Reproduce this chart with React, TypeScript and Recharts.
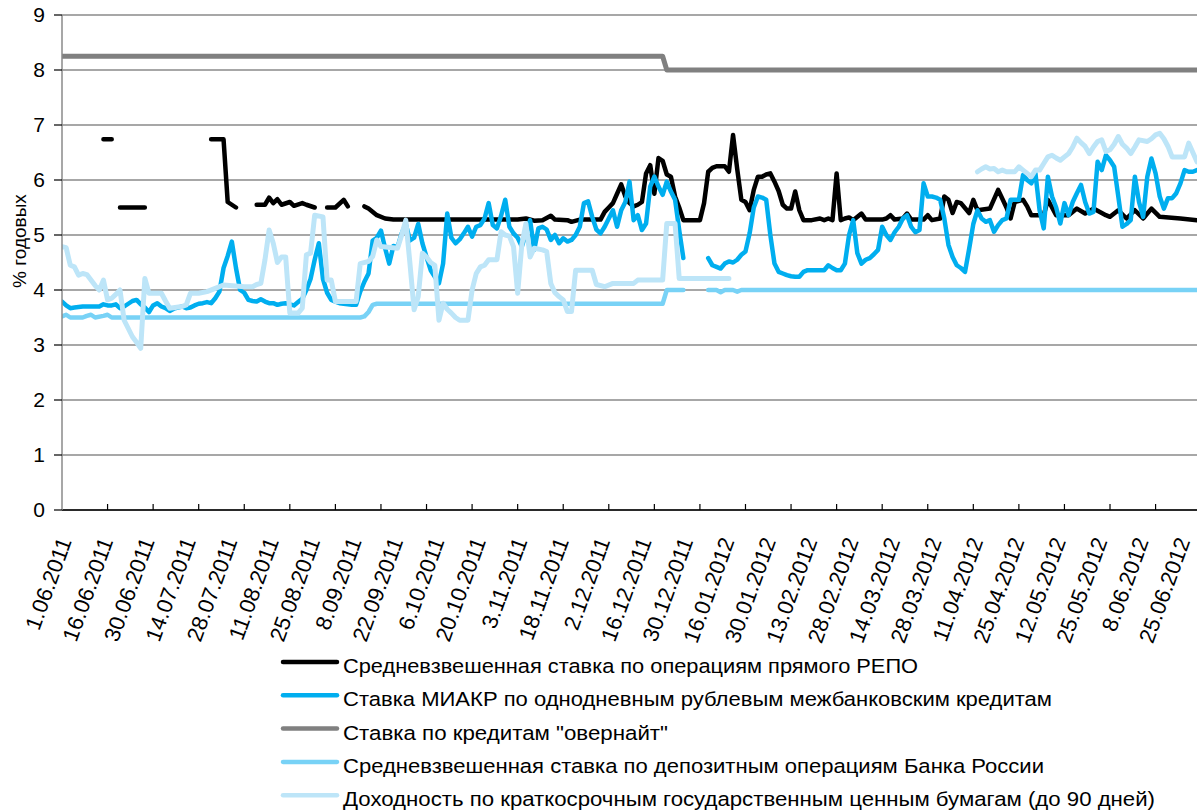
import React from 'react';
import { LineChart, Line, XAxis, YAxis, CartesianGrid } from 'recharts';

type Pt = [number, number | null];

// Tick labels: one every 10 business days (category index = position * 10)
const tickLabels: string[] = [
  '1.06.2011', '16.06.2011', '30.06.2011', '14.07.2011', '28.07.2011', '11.08.2011', '25.08.2011',
  '8.09.2011', '22.09.2011', '6.10.2011', '20.10.2011', '3.11.2011', '18.11.2011', '2.12.2011',
  '16.12.2011', '30.12.2011', '16.01.2012', '30.01.2012', '13.02.2012', '28.02.2012', '14.03.2012',
  '28.03.2012', '11.04.2012', '25.04.2012', '12.05.2012', '25.05.2012', '8.06.2012', '25.06.2012',
];
const lastIndex = 274;
const yTicks = [0, 1, 2, 3, 4, 5, 6, 7, 8, 9];

// Series values: [business-day index, value]; null = gap
const repo: Pt[] = [
  [10, 6.74], [11, 6.74], [12, 6.74], [13, null],
  [14, 5.5], [20, 5.5], [21, null],
  [36, 6.74], [39, 6.74], [40, 5.6], [41, 5.55], [42, 5.5], [43, null],
  [47, 5.55], [49, 5.55], [50, 5.68], [51, 5.58], [52, 5.65], [53, 5.55], [55, 5.6], [56, 5.53], [58, 5.58], [59, 5.55], [61, 5.5], [62, null],
  [64, 5.5], [66, 5.5], [68, 5.64], [69, 5.52], [70, null],
  [73, 5.52], [74, 5.48], [76, 5.36], [78, 5.3], [80, 5.28], [110, 5.28], [112, 5.3], [114, 5.26], [116, 5.27], [118, 5.35],
  [119, 5.28], [122, 5.27], [123, 5.24], [125, 5.28], [130, 5.28], [131, 5.42], [132, 5.5], [133, 5.58], [134, 5.75], [135, 5.92],
  [136, 5.7], [137, 5.58], [138, 5.52], [139, 5.55], [140, 5.6], [141, 6.12], [142, 6.27], [143, 5.75], [144, 6.4], [145, 6.35],
  [146, 6.1], [147, 6.06], [148, 5.7], [149, 5.5], [150, 5.27], [154, 5.27], [155, 5.58], [156, 6.15], [157, 6.22], [158, 6.25],
  [160, 6.25], [161, 6.15], [162, 6.82], [163, 6.2], [164, 5.64], [165, 5.6], [166, 5.45], [167, 5.82], [168, 6.06], [169, 6.06],
  [170, 6.1], [171, 6.12], [172, 5.97], [173, 5.8], [174, 5.55], [175, 5.48], [176, 5.48], [177, 5.79], [178, 5.45], [179, 5.27],
  [181, 5.27], [183, 5.3], [184, 5.27], [185, 5.3], [186, 5.27], [187, 6.12], [188, 5.27], [189, 5.3], [190, 5.32], [191, 5.27],
  [193, 5.39], [194, 5.28], [198, 5.28], [199, 5.3], [200, 5.36], [201, 5.28], [203, 5.3], [204, 5.39], [205, 5.28], [208, 5.28],
  [209, 5.36], [210, 5.27], [212, 5.3], [213, 5.7], [214, 5.64], [215, 5.4], [216, 5.6], [217, 5.58], [219, 5.4], [220, 5.64],
  [221, 5.45], [224, 5.48], [226, 5.82], [228, 5.5], [229, 5.3], [230, 5.6], [232, 5.64], [233, 5.52], [234, 5.36], [237, 5.36],
  [238, 5.64], [240, 5.36], [243, 5.36], [245, 5.48], [247, 5.39], [249, 5.48], [252, 5.36], [253, 5.33], [255, 5.45], [257, 5.3],
  [259, 5.45], [261, 5.3], [263, 5.48], [265, 5.33], [270, 5.3], [274, 5.27],
];

const miacr: Pt[] = [
  [0, 3.79], [1, 3.72], [2, 3.67], [3, 3.68], [5, 3.7], [7, 3.7], [9, 3.7], [10, 3.74], [11, 3.72], [12, 3.72],
  [13, 3.74], [14, 3.67], [15, 3.7], [16, 3.75], [17, 3.8], [18, 3.82], [19, 3.74], [20, 3.68], [21, 3.6], [22, 3.72],
  [23, 3.76], [24, 3.7], [25, 3.67], [26, 3.62], [27, 3.66], [28, 3.68], [29, 3.7], [30, 3.67], [31, 3.68], [32, 3.72],
  [33, 3.75], [34, 3.76], [35, 3.78], [36, 3.76], [37, 3.85], [38, 3.97], [39, 4.4], [40, 4.62], [41, 4.88], [42, 4.4],
  [43, 4.0], [44, 3.95], [45, 3.82], [46, 3.8], [47, 3.79], [48, 3.83], [49, 3.79], [50, 3.76], [51, 3.76], [52, 3.73],
  [53, 3.75], [54, 3.76], [55, 3.74], [56, 3.72], [57, 3.78], [58, 3.84], [59, 4.0], [60, 4.2], [61, 4.55], [62, 4.85],
  [63, 4.2], [64, 3.95], [65, 3.82], [66, 3.79], [67, 3.76], [68, 3.75], [70, 3.73], [71, 3.73], [72, 3.97], [73, 4.15],
  [74, 4.3], [75, 4.9], [76, 4.95], [77, 5.08], [78, 4.76], [79, 4.48], [80, 4.8], [81, 4.78], [82, 5.03], [83, 5.2],
  [84, 4.9], [85, 4.95], [86, 5.2], [87, 4.85], [88, 4.6], [89, 4.36], [90, 4.24], [91, 4.12], [92, 4.48], [93, 5.39],
  [94, 4.95], [95, 4.85], [96, 4.92], [97, 5.03], [98, 5.15], [99, 4.97], [100, 5.15], [101, 5.18], [102, 5.3], [103, 5.58],
  [104, 5.18], [105, 5.12], [106, 5.35], [107, 5.64], [108, 5.15], [109, 5.03], [110, 4.95], [111, 4.79], [112, 5.03], [113, 5.27],
  [114, 4.73], [115, 5.12], [116, 5.15], [117, 5.1], [118, 4.91], [119, 5.0], [120, 4.85], [121, 4.94], [122, 4.88], [123, 4.91],
  [124, 5.0], [125, 5.15], [126, 5.58], [127, 5.61], [128, 5.33], [129, 5.1], [130, 5.03], [131, 5.15], [132, 5.3], [133, 5.45],
  [134, 5.15], [135, 5.45], [136, 5.6], [137, 5.97], [138, 5.27], [139, 5.36], [140, 5.09], [141, 5.21], [142, 5.88], [143, 6.06],
  [144, 5.88], [145, 5.73], [146, 5.97], [147, 5.79], [148, 5.64], [149, 5.09], [150, 4.58], [151, null],
  [156, 4.58], [157, 4.45], [158, 4.42], [159, 4.39], [160, 4.48], [161, 4.52], [162, 4.5], [163, 4.55], [164, 4.64], [165, 4.7],
  [166, 5.03], [167, 5.5], [168, 5.7], [169, 5.68], [170, 5.64], [171, 5.0], [172, 4.48], [173, 4.33], [174, 4.3], [175, 4.27],
  [176, 4.25], [177, 4.24], [178, 4.24], [179, 4.33], [180, 4.36], [183, 4.36], [184, 4.36], [185, 4.45], [186, 4.4], [187, 4.36],
  [188, 4.36], [189, 4.48], [190, 5.0], [191, 5.27], [192, 4.67], [193, 4.48], [194, 4.55], [195, 4.58], [196, 4.65], [197, 4.73],
  [198, 5.15], [199, 5.0], [200, 4.91], [201, 5.05], [202, 5.15], [203, 5.3], [204, 5.36], [205, 5.15], [206, 5.05], [207, 5.09],
  [208, 5.94], [209, 5.7], [210, 5.7], [211, 5.68], [212, 5.64], [213, 5.3], [214, 4.82], [215, 4.6], [216, 4.45], [217, 4.4],
  [218, 4.33], [219, 4.75], [220, 5.2], [221, 5.45], [222, 5.3], [223, 5.24], [224, 5.27], [225, 5.06], [226, 5.18], [227, 5.27],
  [228, 5.3], [229, 5.64], [230, 5.64], [231, 5.64], [232, 6.09], [233, 6.0], [234, 5.94], [235, 6.12], [236, 5.45], [237, 5.12],
  [238, 6.06], [239, 5.7], [240, 5.5], [241, 5.21], [242, 5.58], [243, 5.36], [244, 5.6], [245, 5.76], [246, 5.91], [247, 5.6],
  [248, 5.39], [249, 5.42], [250, 6.33], [251, 6.18], [252, 6.45], [253, 6.36], [254, 6.24], [255, 5.7], [256, 5.15], [257, 5.2],
  [258, 5.27], [259, 6.06], [260, 5.6], [261, 5.33], [262, 6.06], [263, 6.39], [264, 6.12], [265, 5.7], [266, 5.48], [267, 5.67],
  [268, 5.67], [269, 5.76], [270, 5.94], [271, 6.18], [272, 6.15], [273, 6.15], [274, 6.18],
];

const overnight: Pt[] = [[0, 8.25], [145, 8.25], [146, 8.0], [274, 8.0]];

const deposit: Pt[] = [
  [0, 3.52], [1, 3.55], [2, 3.5], [5, 3.5], [6, 3.53], [7, 3.55], [8, 3.5], [10, 3.53], [11, 3.55], [12, 3.5],
  [72, 3.5], [73, 3.52], [74, 3.6], [75, 3.73], [76, 3.75], [145, 3.75], [146, 4.0], [150, 4.0], [151, null],
  [156, 4.0], [158, 4.0], [159, 3.96], [160, 4.0], [162, 4.0], [163, 3.97], [164, 4.0], [274, 4.0],
];

const bills: Pt[] = [
  [0, 4.79], [1, 4.77], [2, 4.45], [3, 4.42], [4, 4.27], [5, 4.3], [6, 4.28], [7, 4.18], [8, 4.08], [9, 4.0],
  [10, 4.18], [11, 3.82], [12, 3.85], [13, 3.92], [14, 4.0], [15, 3.45], [16, 3.3], [17, 3.15], [18, 3.05], [19, 2.94],
  [20, 4.21], [21, 3.94], [24, 3.94], [25, 3.8], [26, 3.67], [29, 3.7], [30, 3.73], [31, 3.94], [33, 3.94], [35, 3.97],
  [37, 4.03], [39, 4.09], [44, 4.06], [46, 4.06], [47, 4.1], [48, 4.12], [49, 4.55], [50, 5.09], [51, 4.85], [52, 4.5],
  [53, 4.6], [54, 4.6], [55, 3.58], [57, 3.58], [58, 3.67], [59, 4.64], [60, 4.67], [61, 5.36], [63, 5.33], [64, 4.18],
  [65, 4.18], [66, 3.79], [71, 3.79], [72, 4.48], [74, 4.52], [75, 4.61], [76, 4.91], [77, 4.79], [81, 4.76], [82, 5.0],
  [83, 5.27], [84, 4.48], [85, 3.64], [86, 3.88], [87, 4.67], [88, 4.6], [89, 4.5], [90, 4.45], [91, 3.45], [92, 3.76],
  [93, 3.65], [94, 3.58], [95, 3.5], [96, 3.45], [98, 3.45], [99, 4.0], [100, 4.3], [101, 4.42], [102, 4.45], [103, 4.55],
  [105, 4.55], [106, 5.06], [107, 5.0], [108, 4.98], [109, 4.79], [110, 3.94], [111, 4.82], [112, 5.21], [113, 4.6], [114, 4.76],
  [116, 4.73], [117, 4.7], [118, 4.12], [119, 3.95], [120, 3.88], [121, 3.82], [122, 3.61], [123, 3.61], [124, 4.36], [128, 4.36],
  [129, 4.1], [131, 4.06], [133, 4.12], [138, 4.12], [139, 4.18], [145, 4.18], [146, 5.21], [148, 5.21], [149, 4.21], [161, 4.21],
  [162, null],
  [221, 6.15], [222, 6.2], [223, 6.24], [224, 6.2], [225, 6.21], [226, 6.15], [227, 6.18], [228, 6.15], [230, 6.15], [231, 6.24],
  [232, 6.18], [233, 6.12], [234, 6.06], [235, 6.18], [236, 6.18], [237, 6.3], [238, 6.42], [239, 6.45], [240, 6.4], [241, 6.36],
  [242, 6.42], [243, 6.48], [244, 6.6], [245, 6.76], [246, 6.68], [247, 6.61], [248, 6.48], [249, 6.6], [250, 6.7], [251, 6.73],
  [252, 6.52], [253, 6.55], [254, 6.65], [255, 6.79], [256, 6.65], [257, 6.58], [258, 6.48], [259, 6.6], [260, 6.73], [262, 6.7],
  [263, 6.75], [264, 6.82], [265, 6.85], [266, 6.75], [267, 6.61], [268, 6.42], [271, 6.42], [272, 6.67], [273, 6.5], [274, 6.33],
];

const seriesNames = [
  'Средневзвешенная ставка по операциям прямого РЕПО',
  'Ставка МИАКР по однодневным рублевым межбанковским кредитам',
  'Ставка по кредитам "овернайт"',
  'Средневзвешенная ставка по депозитным операциям Банка России',
  'Доходность по краткосрочным государственным ценным бумагам (до 90 дней)',
];
const seriesData: Pt[][] = [repo, miacr, overnight, deposit, bills];
const seriesColors = ['#000000', '#00AEEF', '#808080', '#78D2F6', '#BDE5F8'];
const seriesWidths = [4.5, 4.5, 5, 4.5, 5];
const legendWidths = [575, 709, 325, 701, 812];

const FONT = '"Liberation Sans", Arial, Helvetica, sans-serif';

const labelTicks = tickLabels.map((_, k) => k * 10);
const markTicks: number[] = [];
for (let k = 11; k <= lastIndex; k += 11) markTicks.push(k);
const xTicks = Array.from(new Set([...labelTicks, ...markTicks])).sort((a, b) => a - b);

const XTick = (props: any) => {
  const { x, y, payload } = props;
  const v = payload.value as number;
  return (
    <g>
      {v % 11 === 0 && v > 0 ? <line x1={x} x2={x} y1={y - 6} y2={y} stroke="#000" strokeWidth={1.2} /> : null}
      {v % 10 === 0 ? (
        <text
          transform={`translate(${x + 10},${y + 31}) rotate(-70)`}
          textAnchor="end"
          fontSize={22}
          fontFamily={FONT}
          fill="#000"
        >
          {tickLabels[v / 10]}
        </text>
      ) : null}
    </g>
  );
};

const toPoints = (arr: Pt[]) => arr.map(([i, v]) => ({ i, v }));

export default function App() {
  const legendTop = 662;
  const legendStep = 33.3;
  return (
    <div style={{ position: 'absolute', left: 0, top: 0, width: 1202, height: 812, background: '#fff' }}>
      <LineChart width={1202} height={812} margin={{ top: 15, right: 5, bottom: 0, left: 0 }}>
        <CartesianGrid vertical={false} stroke="#8a8a8a" strokeWidth={1.5} />
        <XAxis
          type="number"
          dataKey="i"
          domain={[0, lastIndex]}
          ticks={xTicks}
          interval={0}
          allowDataOverflow
          tickLine={false}
          tickSize={0}
          tickMargin={0}
          height={302}
          axisLine={{ stroke: '#000', strokeWidth: 1.5 }}
          tick={(p: any) => <XTick {...p} />}
        />
        <YAxis
          type="number"
          domain={[0, 9]}
          ticks={yTicks}
          interval={0}
          width={62}
          tickSize={8}
          tickMargin={9}
          tickLine={{ stroke: '#000', strokeWidth: 1.2 }}
          axisLine={{ stroke: '#8a8a8a', strokeWidth: 1.5 }}
          tick={{ fontSize: 21, fill: '#000', fontFamily: FONT }}
        />
        {seriesData.map((d, k) => (
          <Line
            key={k}
            data={toPoints(d)}
            dataKey="v"
            name={seriesNames[k]}
            type="linear"
            stroke={seriesColors[k]}
            strokeWidth={seriesWidths[k]}
            strokeLinecap="round"
            strokeLinejoin="round"
            dot={false}
            activeDot={false}
            isAnimationActive={false}
          />
        ))}
      </LineChart>
      <svg
        width={1202}
        height={812}
        style={{ position: 'absolute', left: 0, top: 0, pointerEvents: 'none' }}
      >
        <text
          transform="translate(26,241) rotate(-90)"
          textAnchor="middle"
          fontSize={19}
          fontFamily={FONT}
          fill="#000"
        >
          % годовых
        </text>
        {seriesNames.map((name, k) => {
          const cy = legendTop + k * legendStep;
          return (
            <g key={k}>
              <line x1={283} x2={337} y1={cy} y2={cy} stroke={seriesColors[k]} strokeWidth={4.5} strokeLinecap="round" />
              <text
                x={343}
                y={cy + 11}
                fontSize={20.5}
                fontFamily={FONT}
                fill="#000"
                textLength={legendWidths[k]}
                lengthAdjust="spacingAndGlyphs"
              >
                {name}
              </text>
            </g>
          );
        })}
      </svg>
    </div>
  );
}
